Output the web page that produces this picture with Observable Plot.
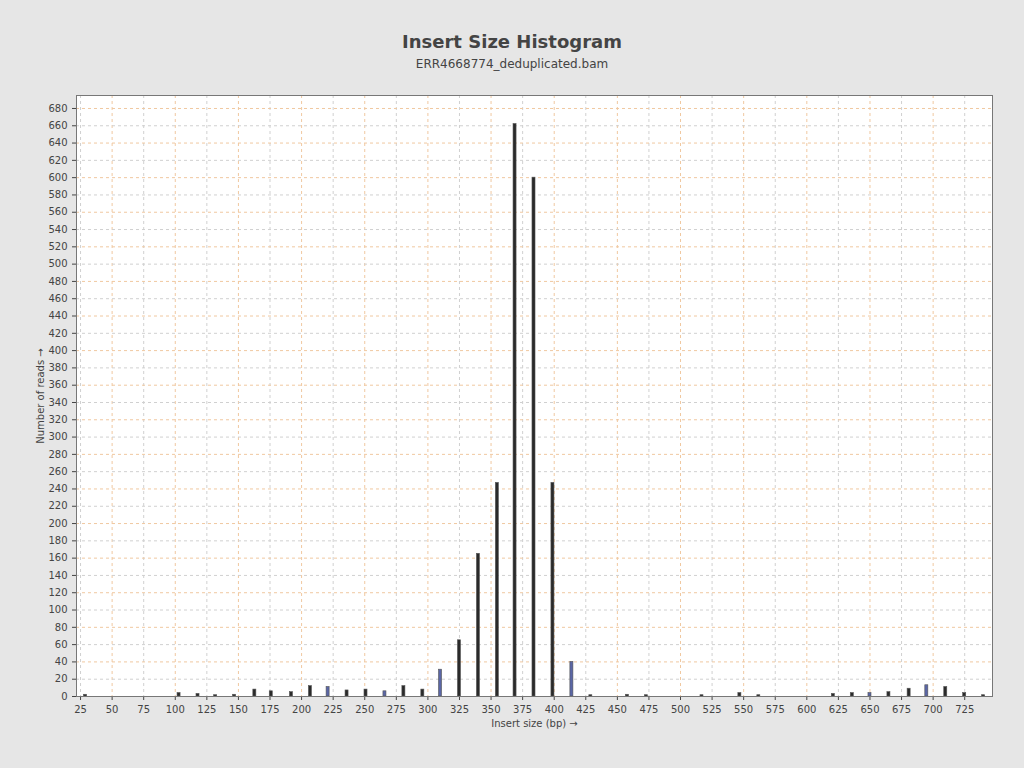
<!DOCTYPE html>
<html>
<head>
<meta charset="UTF-8">
<script src="https://cdn.jsdelivr.net/npm/d3@7"></script>
<script src="https://cdn.jsdelivr.net/npm/@observablehq/plot@0.6"></script>
<style>
  body { margin: 0; background: #e6e6e6; font-family: "DejaVu Sans", sans-serif; }
  #head { height: 85px; text-align: center; color: #444; }
  #head h1 { margin: 0; padding-top: 31px; font-size: 18px; font-weight: bold; line-height: 22px; }
  #head p { margin: 4px 0 0; font-size: 12px; }
</style>
</head>
<body>
<div id="head">
  <h1>Insert Size Histogram</h1>
  <p>ERR4668774_deduplicated.bam</p>
</div>
<div id="chart"></div>
<script>
// insert size (bp) and read counts
const sizes  = [29, 103, 118, 132, 147, 163, 176, 192, 207, 221, 236, 251, 266, 281, 296, 310, 325, 340, 355, 369, 384, 399, 414, 429, 458, 473, 517, 547, 562, 621, 636, 650, 665, 681, 695, 710, 725, 740];
const counts = [2, 4, 3, 1.5, 2, 8, 6, 5, 12, 11, 7, 8, 6, 12, 8, 31, 65, 165, 247, 662, 600, 247, 40, 1.5, 2, 1.5, 1.5, 4, 1.5, 3, 4, 4, 5, 9, 13, 11, 4, 1.5];
// bars drawn with a blue fill in the original
const blueBars = [221, 266, 310, 414, 650, 695];

const data = sizes.map((s, i) => ({ size: s, count: counts[i], blue: blueBars.includes(s) }));
const xTicks = d3.range(25, 726, 25);
const yTicks = d3.range(0, 681, 20);

const plot = Plot.plot({
  width: 1024,
  height: 683,
  marginLeft: 76,
  marginRight: 32,
  marginTop: 10,
  marginBottom: 72,
  style: { background: "#e6e6e6", fontFamily: "DejaVu Sans, sans-serif", fontSize: "10px", color: "#444" },
  x: { domain: [21.8, 747], ticks: xTicks, label: "Insert size (bp)", labelAnchor: "center", labelOffset: 30, tickSize: 4 },
  y: { domain: [0, 695], ticks: yTicks, label: "Number of reads", labelAnchor: "center", labelOffset: 40, tickSize: 4 },
  marks: [
    Plot.frame({ fill: "white" }),
    Plot.ruleX(xTicks, { stroke: (d, i) => i % 2 ? "#f0c8a0" : "#d0d0d0", strokeDasharray: "3,3", strokeOpacity: 1 }),
    Plot.ruleY(yTicks, { stroke: (d, i) => i % 2 ? "#d0d0d0" : "#f0c8a0", strokeDasharray: "3,3", strokeOpacity: 1 }),
    Plot.rectY(data, {
      x1: d => d.size - 1.2, x2: d => d.size + 1.2, y: "count",
      fill: d => d.blue ? "#5a66a6" : "#2a2a2a", stroke: "#555", strokeWidth: 0.6
    }),
    Plot.frame({ stroke: "#777" })
  ]
});
document.querySelector("#chart").append(plot);
</script>
</body>
</html>
